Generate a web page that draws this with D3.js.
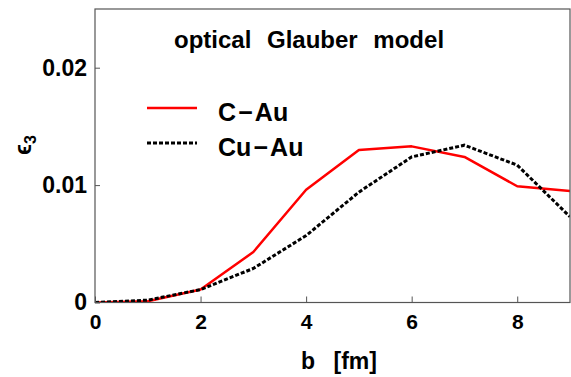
<!DOCTYPE html>
<html lang="en">
<head>
<meta charset="UTF-8">
<title>epsilon3 vs b</title>
<script src="https://cdnjs.cloudflare.com/ajax/libs/d3/7.8.5/d3.min.js"></script>
<style>
    body { margin: 0; background: #fff; }
    svg { display: block; font-family: "Liberation Sans", Arial, sans-serif; font-weight: bold; }
</style>
</head>
<body>
<svg width="571" height="377"></svg>
<script>
    // impact parameter b [fm] and eccentricity eps3 for both systems
    const bValues = [0, 1, 2, 3, 4, 5, 6, 7, 8, 9];
    const cAu  = [0, 0.0001, 0.0011, 0.0043, 0.0096, 0.0130, 0.0133, 0.0124, 0.0099, 0.0095];
    const cuAu = [0, 0.0002, 0.0011, 0.0029, 0.0057, 0.0094, 0.0124, 0.0134, 0.0117, 0.0073];
    const xTicks = [0, 2, 4, 6, 8];
    const yTicks = [0, 0.01, 0.02];
    const yTickLabels = ["0", "0.01", "0.02"];

    const svg = d3.select("svg");
    const plot = { left: 95, right: 570, top: 9, bottom: 302.5 };

    const x = d3.scaleLinear().domain([0, 9]).range([plot.left, plot.right]);
    const y = d3.scaleLinear().domain([0, 0.025]).range([plot.bottom, plot.top]);

    svg.append("clipPath").attr("id", "plotclip")
        .append("rect").attr("x", plot.left).attr("y", plot.top)
        .attr("width", plot.right - plot.left).attr("height", plot.bottom - plot.top);

    const line = d3.line().x((d, i) => x(bValues[i])).y(d => y(d));

    const g = svg.append("g").attr("clip-path", "url(#plotclip)");
    g.append("path").datum(cAu)
        .attr("d", line).attr("fill", "none")
        .attr("stroke", "#ff0000").attr("stroke-width", 2.5)
        .attr("stroke-linejoin", "round");
    g.append("path").datum(cuAu)
        .attr("d", line).attr("fill", "none")
        .attr("stroke", "#000").attr("stroke-width", 3)
        .attr("stroke-dasharray", "4,2");

    // frame
    svg.append("rect").attr("x", plot.left).attr("y", plot.top)
        .attr("width", plot.right - plot.left).attr("height", plot.bottom - plot.top)
        .attr("fill", "none").attr("stroke", "#555").attr("stroke-width", 1.2);

    // axes with inward ticks
    const xAxis = d3.axisBottom(x).tickValues(xTicks).tickSizeInner(-6).tickSizeOuter(0).tickPadding(12);
    const xg = svg.append("g").attr("transform", `translate(0,${plot.bottom})`).call(xAxis);
    xg.select(".domain").remove();
    xg.selectAll("line").attr("stroke", "#555");
    xg.selectAll("text").attr("font-size", 21).attr("font-family", "Liberation Sans, Arial, sans-serif")
        .attr("font-weight", "bold").attr("fill", "#000");

    const yAxis = d3.axisLeft(y).tickValues(yTicks).tickFormat((d, i) => yTickLabels[i])
        .tickSizeInner(-5).tickSizeOuter(0).tickPadding(8);
    const yg = svg.append("g").attr("transform", `translate(${plot.left},0)`).call(yAxis);
    yg.select(".domain").remove();
    yg.selectAll("line").attr("stroke", "#555");
    yg.selectAll("text").attr("font-size", 23).attr("font-family", "Liberation Sans, Arial, sans-serif")
        .attr("font-weight", "bold").attr("fill", "#000");

    // axis titles
    svg.append("text").attr("x", 339).attr("y", 369).attr("text-anchor", "middle")
        .attr("font-size", 23).attr("word-spacing", 12).text("b [fm]");

    const yl = svg.append("text").attr("transform", "translate(31,155) rotate(-90)")
        .attr("font-size", 23).attr("font-weight", "bold");
    yl.append("tspan").text("\u03F5");
    yl.append("tspan").attr("font-size", 16).attr("dy", 5).text("3");

    // title
    svg.append("text").attr("x", 174).attr("y", 48)
        .attr("font-size", 24).attr("word-spacing", 9).text("optical Glauber model");

    // legend
    const legend = [
        { name: "C\u200A\u2212\u200AAu", color: "#ff0000", width: 2.5, dash: null, y: 108 },
        { name: "Cu\u200A\u2212\u200AAu", color: "#000", width: 3, dash: "4,2", y: 143 }
    ];
    legend.forEach(l => {
        svg.append("line").attr("x1", 147).attr("x2", 197).attr("y1", l.y).attr("y2", l.y)
            .attr("stroke", l.color).attr("stroke-width", l.width)
            .attr("stroke-dasharray", l.dash);
        svg.append("text").attr("x", 218).attr("y", l.y + 13)
            .attr("font-size", 25).text(l.name);
    });
</script>
</body>
</html>
